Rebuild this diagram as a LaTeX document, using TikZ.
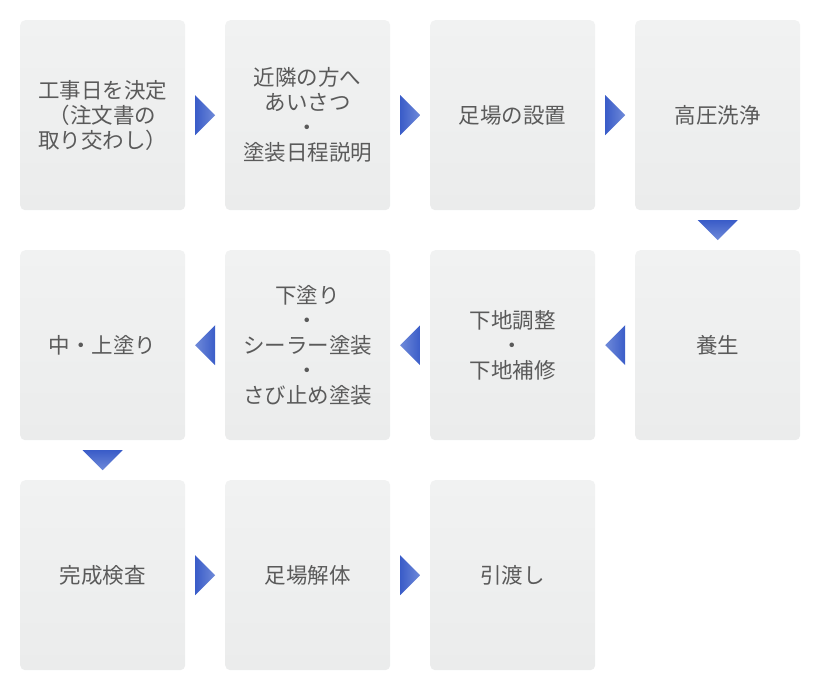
\documentclass[tikz,border=0pt]{standalone}
\usepackage{fontspec}
\newfontfamily\jpfont{Noto Sans CJK JP}
\usetikzlibrary{matrix,calc}
\definecolor{boxtop}{HTML}{F1F2F2}
\definecolor{boxbot}{HTML}{EBECEC}
\definecolor{txtgray}{HTML}{5A5A5A}
\definecolor{arrdark}{HTML}{3A5CC8}
\definecolor{arrlight}{HTML}{6F8AD9}
\tikzset{
stepbox/.style={minimum width=165pt, minimum height=190pt, inner sep=0pt,
  outer sep=0pt, rounded corners=5pt, top color=boxtop, bottom color=boxbot,
  text=txtgray, align=center, font=\jpfont\fontsize{21.5}{25}\selectfont},
rarrow/.style={left color=arrdark, right color=arrlight},
larrow/.style={left color=arrlight, right color=arrdark},
darrow/.style={top color=arrdark, bottom color=arrlight}
}
\begin{document}
\begin{tikzpicture}[x=1pt,y=1pt]
\useasboundingbox (0,0) rectangle (820,-691);
\matrix(a)[anchor=north west, inner sep=0pt,
row sep=40pt, column sep=40pt,
nodes={stepbox}] at (20,-20)
{
\node(a-1-1){工事日を決定\\（注文書の\\取り交わし）}; & \node(a-1-2){近隣の方へ\\あいさつ\\・\\塗装日程説明}; & \node(a-1-3){足場の設置}; & \node(a-1-4){高圧洗浄};\\
\node(a-2-1){中・上塗り}; & \node(a-2-2){下塗り\\・\\シーラー塗装\\・\\さび止め塗装}; & \node(a-2-3){下地調整\\・\\下地補修}; & \node(a-2-4){養生};\\
\node(a-3-1){完成検査}; & \node(a-3-2){足場解体}; & \node(a-3-3){引渡し}; & \\};
\shade[rarrow] ($(a-1-1.east)!.5!(a-1-2.west)$) ++(-10,20) -- ++(20,-20) -- ++(-20,-20) -- cycle;
\shade[rarrow] ($(a-1-2.east)!.5!(a-1-3.west)$) ++(-10,20) -- ++(20,-20) -- ++(-20,-20) -- cycle;
\shade[rarrow] ($(a-1-3.east)!.5!(a-1-4.west)$) ++(-10,20) -- ++(20,-20) -- ++(-20,-20) -- cycle;
\shade[darrow] ($(a-1-4.south)!.5!(a-2-4.north)$) ++(-20,10) -- ++(40,0) -- ++(-20,-20) -- cycle;
\shade[larrow] ($(a-2-4.west)!.5!(a-2-3.east)$) ++(10,20) -- ++(-20,-20) -- ++(20,-20) -- cycle;
\shade[larrow] ($(a-2-3.west)!.5!(a-2-2.east)$) ++(10,20) -- ++(-20,-20) -- ++(20,-20) -- cycle;
\shade[larrow] ($(a-2-2.west)!.5!(a-2-1.east)$) ++(10,20) -- ++(-20,-20) -- ++(20,-20) -- cycle;
\shade[darrow] ($(a-2-1.south)!.5!(a-3-1.north)$) ++(-20,10) -- ++(40,0) -- ++(-20,-20) -- cycle;
\shade[rarrow] ($(a-3-1.east)!.5!(a-3-2.west)$) ++(-10,20) -- ++(20,-20) -- ++(-20,-20) -- cycle;
\shade[rarrow] ($(a-3-2.east)!.5!(a-3-3.west)$) ++(-10,20) -- ++(20,-20) -- ++(-20,-20) -- cycle;
\end{tikzpicture}
\end{document}
